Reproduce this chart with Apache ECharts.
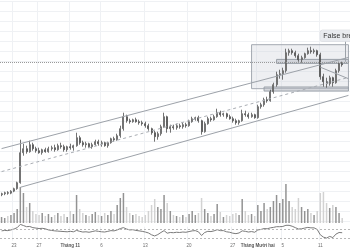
<!DOCTYPE html>
<html><head><meta charset="utf-8">
<script src="https://cdn.jsdelivr.net/npm/echarts@6/dist/echarts.min.js"></script>
<style>html,body{margin:0;padding:0;background:#fff}#c{width:350px;height:250px}</style>
</head><body><div id="c"></div>
<script>
// 12-hour candles, 21 Oct 2023 00:00 onward
const startTime = Date.UTC(2023, 9, 21, 0);
const categoryCount = 112;
const categories = [];
for (let i = 0; i < categoryCount; i++) {
  const d = new Date(startTime + i * 12 * 3600 * 1000);
  categories.push(d.toISOString().slice(0, 13).replace('T', ' '));
}

const tickLabels = {
  '2023-10-23 00': '23', '2023-10-27 00': '27', '2023-11-01 00': 'Tháng 11',
  '2023-11-06 00': '6', '2023-11-13 00': '13', '2023-11-20 00': '20',
  '2023-11-27 00': '27', '2023-12-01 00': 'Tháng Mười hai', '2023-12-05 00': '5',
  '2023-12-11 00': '11'
};

const opens = [29700,29800,29900,29850,30050,30300,30900,33900,34300,34000,
34700,34300,34100,33900,34200,34000,34300,34400,34200,34600,
34500,34200,34500,34400,34600,35400,34900,34700,34800,34500,
34700,35000,34800,34900,34600,34900,35300,35200,35600,36300,
37500,37100,37000,37200,37000,36900,36800,36600,36300,35900,
35500,35800,36500,37500,36300,36500,36400,36600,36500,36700,
36600,37000,37300,37400,37100,36000,36800,37300,37200,37500,
37900,37700,37800,37500,37300,37100,36900,37100,37800,37700,
37500,37700,37400,38500,38700,39200,39100,40000,40700,41700,
41800,42100,43900,44100,43900,43600,43200,43400,43800,44100,
44000,44100,43700,41500,41000,40800,41400,40900,42100,42800];
const closes = [29800,29900,29850,30050,30300,30900,33900,34300,34000,34700,
34300,34100,33900,34200,34000,34300,34400,34200,34600,34500,
34200,34500,34400,34600,35400,34900,34700,34800,34500,34700,
35000,34800,34900,34600,34900,35300,35200,35600,36300,37500,
37100,37000,37200,37000,36900,36800,36600,36300,35900,35500,
35800,36500,37500,36300,36500,36400,36600,36500,36700,36600,
37000,37300,37400,37100,36000,36800,37300,37200,37500,37900,
37700,37800,37500,37300,37100,36900,37100,37800,37700,37500,
37700,37400,38500,38700,39200,39100,40000,40700,41700,41800,
42100,43900,44100,43900,43600,43200,43400,43800,44100,44000,
44100,43700,41500,41000,40800,41400,40900,42100,42800,42700];
const highs = [29900,30000,30050,30150,30400,31000,35200,34800,34600,35100,
34900,34500,34400,34300,34400,34500,34600,34700,34800,34900,
34700,34600,34800,34700,35900,35600,35100,35000,34900,34900,
35200,35200,35100,35000,35000,35400,35500,35800,36600,37900,
37700,37300,37300,37400,37200,37100,37000,36800,36400,36100,
36000,36700,37900,37600,36700,36700,36800,36800,36900,36900,
37200,37500,37500,37600,37200,37000,37500,37500,37700,38300,
38100,37900,37900,37700,37500,37300,37200,38200,38100,37900,
37900,37800,38700,38900,39400,39500,40200,40900,42000,42200,
42400,44300,44300,44300,44100,43800,43600,43900,44400,44500,
44300,44200,43900,41800,41400,41600,41500,42300,43000,43000];
const lows = [29550,29650,29700,29750,29950,30200,30800,33600,33800,33900,
34100,33900,33800,33700,33900,33900,34100,34000,34100,34300,
34000,34000,34200,34100,34500,34700,34500,34400,34400,34300,
34600,34600,34500,34500,34400,34800,35000,35100,35400,36100,
36900,36800,36900,36900,36700,36600,36400,36100,35700,35000,
35200,35600,36400,35900,35900,36200,36200,36300,36300,36400,
36500,36900,37100,36900,35700,35900,36700,37000,37100,37400,
37500,37500,37300,37200,36900,36700,36700,37000,37500,37300,
37400,37300,37300,38300,38500,38900,39000,39800,40500,41300,
41200,41900,43600,43700,43400,43000,42900,43300,43700,43800,
43800,43500,41200,40500,40400,40600,40500,40800,41900,42500];
const volumes = [6,5,7,8,10,14,36,30,16,20,
12,9,8,10,7,9,6,8,10,7,
9,6,12,9,28,14,10,8,7,9,
11,8,7,10,8,12,9,18,25,30,
16,10,8,9,7,6,8,12,18,24,
16,14,28,20,12,8,7,6,8,6,
9,12,8,10,25,14,10,7,9,19,
11,6,8,7,9,10,8,24,12,8,
9,7,18,12,20,14,16,22,28,20,
24,39,22,16,14,25,16,12,14,10,
8,12,30,31,20,15,18,16,10,5];
const rsi = [62,64,63,66,70,76,90,85,80,81,
76,74,72,73,71,66,64,62,61,60,
59,58,60,58,64,60,57,58,56,59,
62,60,58,57,60,63,62,66,72,76,
70,66,67,64,62,60,57,53,45,40,
46,55,63,52,55,54,56,55,57,56,
59,62,63,58,42,55,60,59,62,67,
63,63,58,56,52,50,53,62,60,57,
59,56,66,68,72,71,75,77,80,80,
81,86,86,82,76,70,71,74,77,75,
75,68,45,35,31,38,33,48,55,54];

// annotation levels (price units)
const dottedLevel = 42900;
const zoneBox = {from: '2023-11-30 00', top: 44700, bottom: 40300};
const resistanceBand = {from: '2023-12-04 00', top: 43230, bottom: 42830};
const supportBand = {from: '2023-12-02 00', top: 40470, bottom: 40070};
const channelUpper = [['2023-10-21 00', 34310], ['2023-12-15 12', 43430]];
const channelMid = [['2023-10-21 00', 32010], ['2023-12-15 12', 41430]];
const channelLower = [['2023-10-24 00', 30440], ['2023-12-15 12', 39630]];
const breakLine = [['2023-12-11 00', 42450], ['2023-12-15 12', 41300]];
const pointerLine = [['2023-12-15 00', 45050], ['2023-12-15 00', 43000]];
const noteAnchor = ['2023-12-11 00', 45600];
const noteText = 'False break';
const rsiLevels = [70, 30];

const lastCat = categories[categories.length - 1];
const candleData = opens.map((o, i) => [o, closes[i], lows[i], highs[i]]);
const volData = volumes.map((v, i) => ({
  value: v,
  itemStyle: {color: closes[i] >= opens[i] ? '#939393' : '#d2d2d2'}
}));
const showTick = (idx, val) => tickLabels[val] !== undefined;
const gridColor = '#eff1f4';

function xAx(gi, labels) {
  return {
    type: 'category', gridIndex: gi, data: categories, boundaryGap: true,
    axisLine: {show: false}, axisTick: {show: false},
    axisLabel: labels ? {
      show: true, interval: showTick, margin: 3, fontSize: 4.5,
      fontFamily: 'Liberation Sans', color: '#6d6d6d',
      formatter: v => {
        const t = tickLabels[v] || '';
        return t.indexOf('Tháng') === 0 ? '{m|' + t + '}' : t;
      },
      rich: {m: {fontSize: 4.5, fontWeight: 'bold', color: '#555', fontFamily: 'Liberation Sans'}}
    } : {show: false},
    splitLine: {show: true, interval: showTick, lineStyle: {color: gridColor, width: 1}}
  };
}
const lineSeg = (pts, style) => [{coord: pts[0], lineStyle: style}, {coord: pts[1]}];
const chanStyle = {color: '#9da2a9', width: 1, type: 'solid'};

const option = {
  animation: false,
  backgroundColor: '#ffffff',
  grid: [
    {left: 0, right: 0, top: 1.7, height: 220},
    {left: 0, right: 0, top: 183, height: 40},
    {left: 0, right: 0, top: 226.7, height: 13.9}
  ],
  xAxis: [xAx(0, false), xAx(1, false), xAx(2, true)],
  yAxis: [
    {type: 'value', gridIndex: 0, min: 27000, max: 49000, interval: 1000,
     axisLabel: {show: false}, axisLine: {show: false}, axisTick: {show: false},
     splitLine: {show: true, lineStyle: {color: gridColor, width: 1}}},
    {type: 'value', gridIndex: 1, min: 0, max: 40, show: false, splitLine: {show: false}},
    {type: 'value', gridIndex: 2, min: 20, max: 80, show: false, splitLine: {show: false}}
  ],
  series: [
    {
      type: 'candlestick', xAxisIndex: 0, yAxisIndex: 0, data: candleData,
      barWidth: 1.6,
      itemStyle: {color: '#ffffff', color0: '#505050', borderColor: '#505050', borderColor0: '#505050', borderWidth: 0.8},
      markArea: {
        silent: true,
        data: [
          [{xAxis: zoneBox.from, yAxis: zoneBox.top,
            itemStyle: {color: 'rgba(205,209,218,0.35)', borderColor: '#a3a8b0', borderWidth: 1}},
           {xAxis: lastCat, yAxis: zoneBox.bottom}],
          [{xAxis: resistanceBand.from, yAxis: resistanceBand.top,
            itemStyle: {color: 'rgba(180,185,194,0.45)', borderColor: '#9aa0a8', borderWidth: 1}},
           {xAxis: lastCat, yAxis: resistanceBand.bottom}],
          [{xAxis: supportBand.from, yAxis: supportBand.top,
            itemStyle: {color: 'rgba(180,185,194,0.45)', borderColor: '#9aa0a8', borderWidth: 1}},
           {xAxis: lastCat, yAxis: supportBand.bottom}]
        ]
      },
      markLine: {
        silent: true, symbol: ['none', 'none'], label: {show: false},
        data: [
          {yAxis: dottedLevel, lineStyle: {color: '#9a9a9a', width: 1, type: [1, 1]}},
          lineSeg(channelUpper, chanStyle),
          lineSeg(channelMid, {color: '#a9adb3', width: 1, type: [3, 3]}),
          lineSeg(channelLower, chanStyle),
          lineSeg(breakLine, chanStyle),
          lineSeg(pointerLine, {color: '#9da2a9', width: 1, type: 'solid'})
        ]
      },
      markPoint: {
        silent: true,
        data: [{
          coord: noteAnchor, symbol: 'circle', symbolSize: 0,
          label: {
            show: true, position: 'inside', align: 'left', verticalAlign: 'middle',
            formatter: noteText, fontSize: 7, fontFamily: 'Liberation Sans', color: '#333',
            backgroundColor: '#e9ebef', borderColor: '#d4d7dc', borderWidth: 0.5,
            borderRadius: 2, padding: [2, 3, 2, 3]
          }
        }]
      }
    },
    {
      type: 'bar', xAxisIndex: 1, yAxisIndex: 1, data: volData, barWidth: 1.5
    },
    {
      type: 'line', xAxisIndex: 2, yAxisIndex: 2, data: rsi, symbol: 'none', clip: false,
      lineStyle: {color: '#7a7a7a', width: 1},
      markLine: {
        silent: true, symbol: ['none', 'none'], label: {show: false},
        lineStyle: {color: '#b8b8b8', width: 1, type: [2, 2]},
        data: rsiLevels.map(v => ({yAxis: v}))
      }
    }
  ]
};
const chart = echarts.init(document.getElementById('c'), null, {renderer: 'canvas'});
chart.setOption(option);
</script></body></html>
